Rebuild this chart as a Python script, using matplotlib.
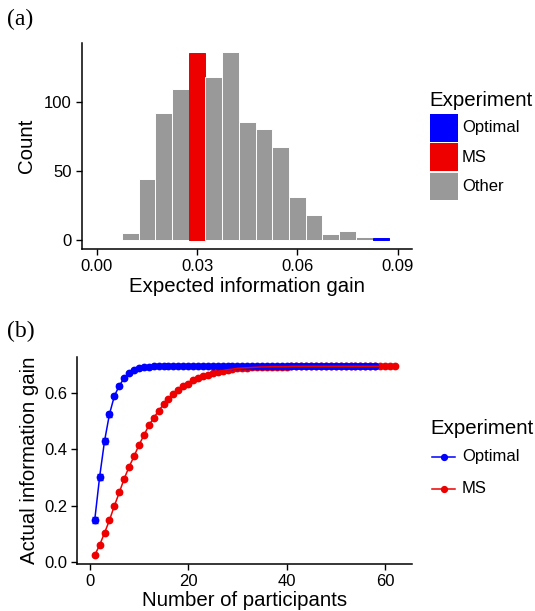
import matplotlib
matplotlib.use("Agg")
import matplotlib.pyplot as plt
from matplotlib.patches import Rectangle
from matplotlib.lines import Line2D

plt.rcParams['font.family'] = ['Liberation Sans', 'DejaVu Sans']

# ---------------- data ----------------
bin_centers = [0.010, 0.015, 0.020, 0.025, 0.030, 0.035, 0.040, 0.045,
               0.050, 0.055, 0.060, 0.065, 0.070, 0.075, 0.080, 0.085]
bin_counts = [5, 44, 92, 109, 135, 118, 136, 85, 80, 67, 31, 18, 4, 6, 2, 1]
bin_groups = ['Other', 'Other', 'Other', 'Other', 'MS', 'Other', 'Other', 'Other',
              'Other', 'Other', 'Other', 'Other', 'Other', 'Other', 'Other', 'Optimal']

opt_n = list(range(1, 59))
opt_gain = [0.149, 0.302, 0.429, 0.524, 0.588, 0.625, 0.651, 0.669, 0.681, 0.687,
            0.690, 0.692] + [0.693] * 46
opt_err = [0.010, 0.012, 0.011, 0.009, 0.007, 0.005, 0.004, 0.003, 0.002, 0.002] + [0.001] * 48

ms_n = list(range(1, 63))
ms_gain = [0.025, 0.061, 0.104, 0.149, 0.200, 0.247, 0.296, 0.338, 0.375, 0.415,
           0.449, 0.484, 0.511, 0.536, 0.559, 0.578, 0.594, 0.609, 0.622, 0.632,
           0.643, 0.651, 0.659, 0.664, 0.669, 0.674, 0.678, 0.681, 0.683, 0.686,
           0.687, 0.688, 0.689, 0.690, 0.691, 0.691, 0.692, 0.692, 0.692, 0.692] + [0.693] * 22
ms_err = [0.004] * 10 + [0.003] * 10 + [0.002] * 10 + [0.001] * 32

legend_a = ['Optimal', 'MS', 'Other']
legend_b = ['Optimal', 'MS']
colors = {'Optimal': '#0000FF', 'MS': '#EE0000', 'Other': '#999999'}

W, H = 535, 611
fig = plt.figure(figsize=(W / 100, H / 100), dpi=100)

def fx(x):
    return x / W

def fy(y):
    return 1 - y / H

def frac_axes(l, t, r, b):
    return fig.add_axes([l / W, 1 - b / H, (r - l) / W, (b - t) / H])

TICK = 12
TITLE = 14.7

def style(ax):
    for s in ['top', 'right']:
        ax.spines[s].set_visible(False)
    for s in ['left', 'bottom']:
        ax.spines[s].set_linewidth(1.1)
        ax.spines[s].set_color('black')
    ax.tick_params(direction='out', length=4, width=1.0, colors='black',
                   labelsize=TICK, pad=3)

# ---------------- panel (a) ----------------
ax1 = frac_axes(81.7, 43, 412, 249)
style(ax1)
ax1.bar(bin_centers, bin_counts, width=0.005,
        color=[colors[g] for g in bin_groups],
        edgecolor=['white' if g == 'Other' else colors[g] for g in bin_groups],
        linewidth=0.7)
ax1.set_xlim(-0.0045, 0.0943)
ax1.set_ylim(-6.8, 142.5)
ax1.set_xticks([0.00, 0.03, 0.06, 0.09])
ax1.set_xticklabels(['0.00', '0.03', '0.06', '0.09'])
ax1.set_yticks([0, 50, 100])
ax1.set_xlabel('Expected information gain', fontsize=TITLE, labelpad=2)
ax1.set_ylabel('Count', fontsize=TITLE, labelpad=6)

# legend (a), drawn in figure pixel positions
fig.text(fx(429), fy(100), 'Experiment', fontsize=TITLE, ha='left', va='center')
for i, k in enumerate(legend_a):
    top = 114 + i * 29.3
    fig.add_artist(Rectangle((fx(430), fy(top + 27.7)), fx(27.7), 27.7 / H,
                             transform=fig.transFigure, facecolor=colors[k],
                             edgecolor='none'))
    fig.text(fx(462), fy(top + 13.8), k, fontsize=TICK, ha='left', va='center')

# ---------------- panel (b) ----------------
ax2 = frac_axes(77, 357, 412, 564)
style(ax2)
ax2.errorbar(ms_n, ms_gain, yerr=ms_err, color=colors['MS'], marker='o',
             markersize=4.6, linestyle='none', capsize=2, elinewidth=0.8, zorder=2)
ax2.errorbar(opt_n, opt_gain, yerr=opt_err, color=colors['Optimal'], marker='o',
             markersize=4.6, linewidth=1.1, capsize=2, elinewidth=0.8, zorder=3)
ax2.plot(ms_n, ms_gain, color=colors['MS'], linewidth=1.1, zorder=4)
ax2.set_xlim(-2.6, 65.5)
ax2.set_ylim(-0.006, 0.726)
ax2.set_xticks([0, 20, 40, 60])
ax2.set_yticks([0.0, 0.2, 0.4, 0.6])
ax2.set_yticklabels(['0.0', '0.2', '0.4', '0.6'])
ax2.set_xlabel('Number of participants', fontsize=TITLE, labelpad=2)
ax2.set_ylabel('Actual information gain', fontsize=TITLE, labelpad=4)

# legend (b)
fig.text(fx(430), fy(428), 'Experiment', fontsize=TITLE, ha='left', va='center')
for i, k in enumerate(legend_b):
    yc = 456.5 + i * 32
    fig.add_artist(Line2D([fx(432), fx(455)], [fy(yc), fy(yc)],
                          transform=fig.transFigure, color=colors[k], linewidth=1.1))
    fig.add_artist(Line2D([fx(443.5)], [fy(yc)], transform=fig.transFigure,
                          color=colors[k], marker='o', markersize=4.2, linestyle='none'))
    fig.text(fx(462), fy(yc), k, fontsize=TICK, ha='left', va='center')

# panel labels
fig.text(fx(7), fy(9), '(a)', family='Liberation Serif', fontsize=17, va='top', ha='left')
fig.text(fx(7), fy(321), '(b)', family='Liberation Serif', fontsize=17, va='top', ha='left')

fig.savefig('out.png', dpi=100)
